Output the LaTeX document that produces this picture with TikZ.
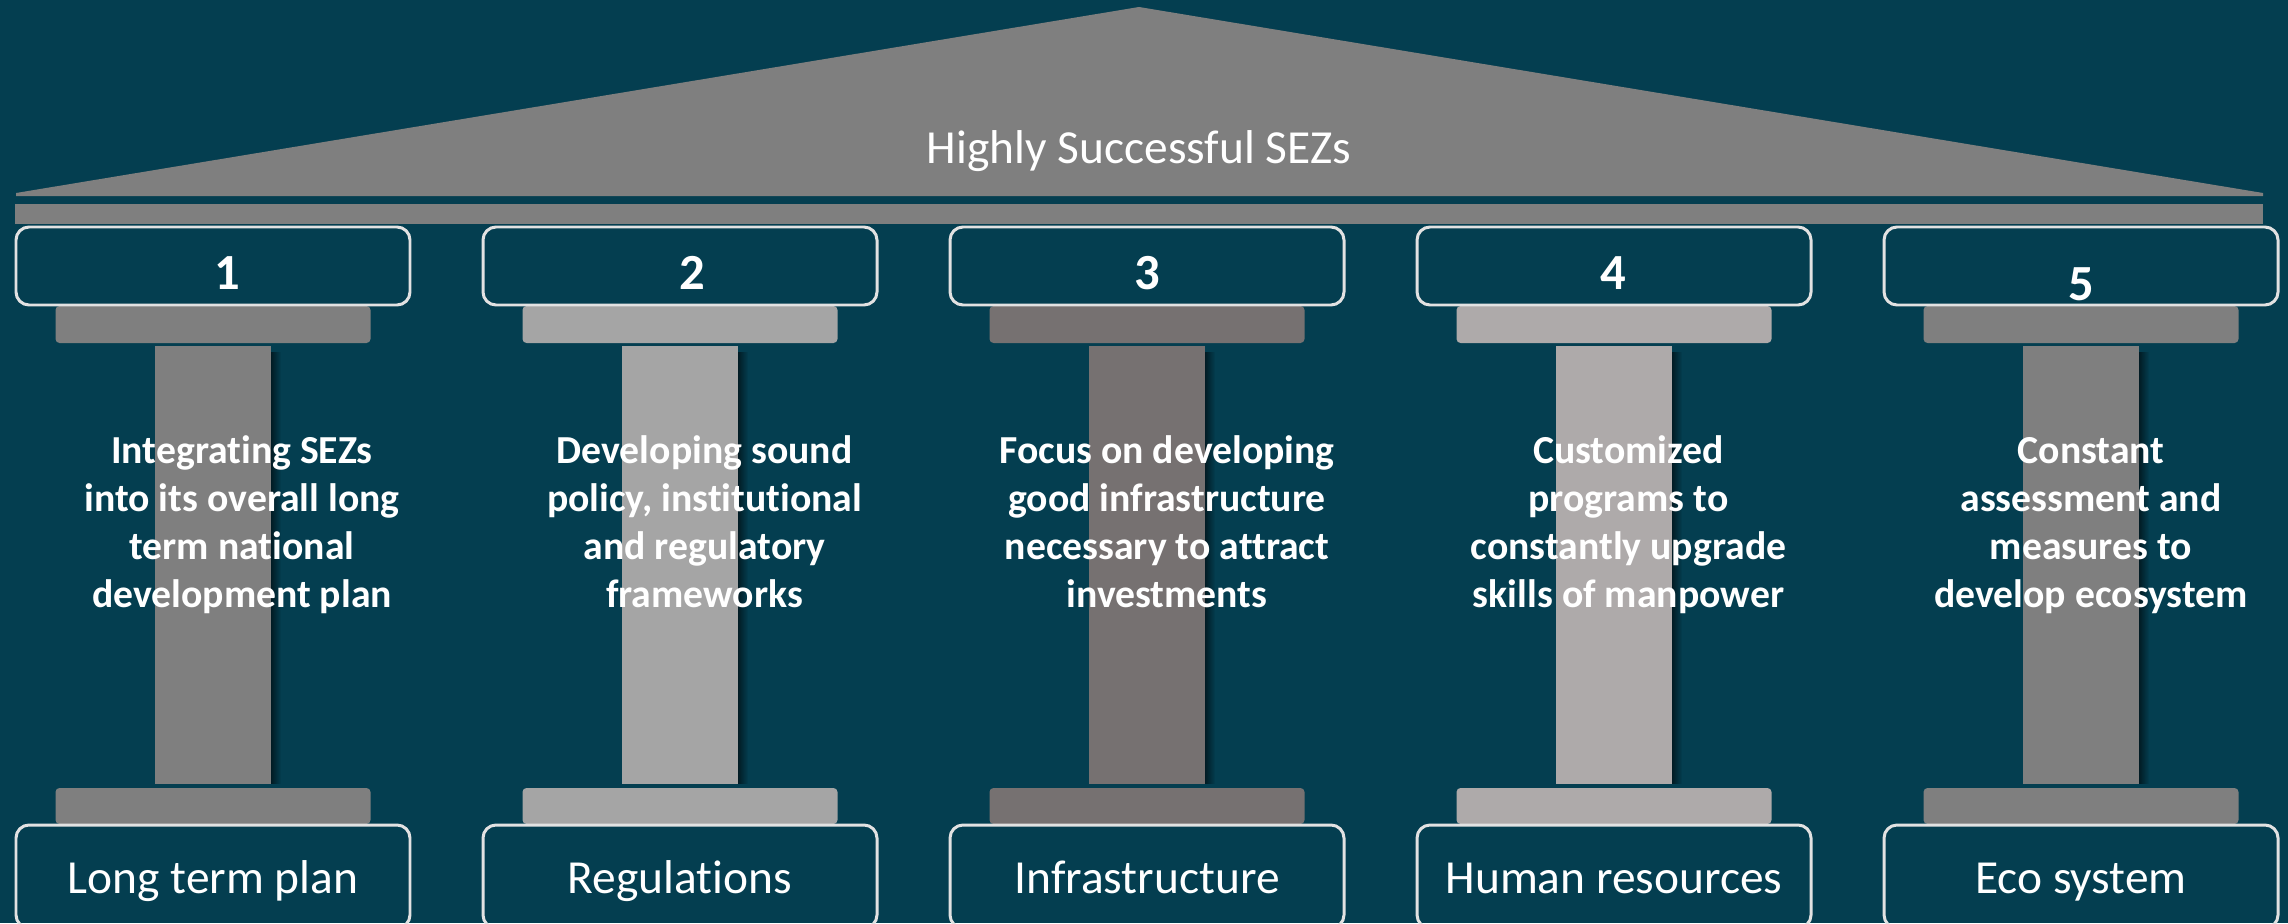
\documentclass[tikz,border=0pt]{standalone}
\usepackage{fontspec}
\setmainfont[Ligatures=NoCommon]{Carlito}
\usetikzlibrary{fadings}
\definecolor{bgteal}{HTML}{043E50}
\definecolor{roofgray}{HTML}{7F7F7F}
\definecolor{pilA}{HTML}{7F7F7F}
\definecolor{pilB}{HTML}{A5A5A5}
\definecolor{pilC}{HTML}{767171}
\definecolor{pilD}{HTML}{AEAAAA}
\definecolor{rim}{HTML}{E2E2E2}
\newcommand{\stack}[1]{\begin{tabular}[t]{@{}c@{}}#1\end{tabular}}

\begin{document}
\begin{tikzpicture}[x=0.1mm,y=-0.1mm]
\tikzstyle{capbox}=[draw=rim, line width=0.85pt, rounded corners=1.3mm, minimum width=39.4mm, minimum height=7.8mm, inner sep=0pt]
\tikzstyle{footbox}=[capbox, minimum height=10.3mm]
\tikzstyle{num}=[anchor=base, inner sep=0pt, text=white, font=\fontsize{14.4}{17}\selectfont\bfseries]
\tikzstyle{body}=[anchor=base, inner sep=0pt, text=white, font=\fontsize{11.3}{13.7}\selectfont\bfseries]
\tikzstyle{tag}=[anchor=base, inner sep=0pt, text=white, font=\fontsize{13.5}{16}\selectfont]
\useasboundingbox (0,0) rectangle (2288,923);
\clip (0,0) rectangle (2288,923);
\fill[bgteal] (0,0) rectangle (2288,923);
\fill[roofgray] (16,193) -- (1139,7) -- (2263,193) -- (2263,196) -- (16,196) -- cycle;
\fill[roofgray] (15,204) rectangle (2263,224);
\node[tag] (roof) at (1139,164) {Highly Successful SEZs};
\foreach \i/\x/\nx/\ny/\tx/\col/\lab/\txt in {
  1/213/227/289/242/pilA/{Long term plan}/{Integrating SEZs\\into its overall long\\term national\\development plan},
  2/680/692/289/704.5/pilB/{Regulations}/{Developing sound\\policy, institutional\\and regulatory\\frameworks},
  3/1147/1147/289/1167/pilC/{Infrastructure}/{Focus on developing\\good infrastructure\\necessary to attract\\investments},
  4/1614/1613/289/1628.5/pilD/{Human resources}/{Customized\\programs to\\constantly upgrade\\skills of manpower},
  5/2081/2081/300/2091/pilA/{Eco system}/{Constant\\assessment and\\measures to\\develop ecosystem}}{
  \fill[\col, rounded corners=0.4mm] (\x-157.5,306) rectangle (\x+157.5,343);
  \fill[\col, rounded corners=0.4mm] (\x-157.5,788) rectangle (\x+157.5,824);
  \fill[black, fill opacity=0.55, path fading=east] (\x+58,352) rectangle (\x+68,784);
  \fill[\col] (\x-58,346) rectangle (\x+58,784);
  \node[capbox] (top\i) at (\x,266) {};
  \node[footbox] (foot\i) at (\x,876.5) {};
  \node[num] (num\i) at (\nx,\ny) {\i};
  \node[body] (txt\i) at (\tx,463) {\stack{\txt}};
  \node[tag] (lab\i) at (\x,893) {\lab};
}
\end{tikzpicture}
\end{document}
